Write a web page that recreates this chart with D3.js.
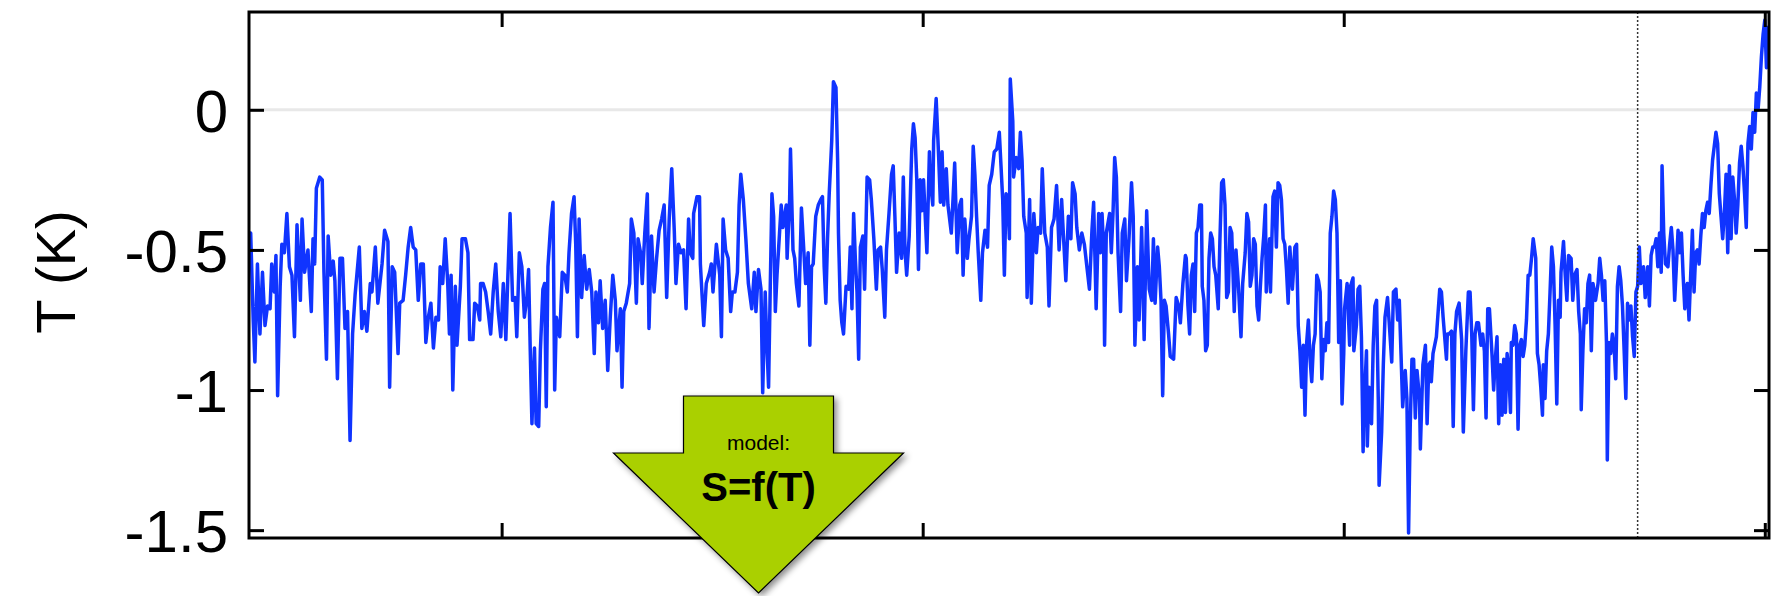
<!DOCTYPE html>
<html>
<head>
<meta charset="utf-8">
<script src="https://cdn.jsdelivr.net/npm/d3@7"></script>
<style>
    body { margin: 0; background: #fff; }
    svg { display: block; font-family: Arial, "Liberation Sans", sans-serif; }
</style>
</head>
<body>
<div id="wrapper"></div>
<script>
// values, one line of years per line of temps
const years = [
    200, 202, 205, 207, 210, 213, 216, 219, 222, 225,
    227, 230, 232, 234, 237, 239, 242, 245, 248, 251,
    254, 257, 261, 263, 266, 270, 274, 276, 278, 280,
    284, 287, 289, 292, 294, 297, 300, 302, 305, 308,
    311, 314, 317, 320, 323, 326, 331, 334, 337, 340,
    344, 346, 350, 353, 358, 361, 365, 367, 370, 373,
    377, 379, 383, 386, 389, 392, 395, 398, 401, 404,
    407, 410, 413, 416, 419, 422, 425, 427, 430, 433,
    436, 438, 440, 442, 445, 447, 451, 453, 457, 460,
    462, 466, 468, 471, 474, 475, 478, 481, 484, 487,
    490, 493, 496, 499, 502, 505, 507, 510, 513, 516,
    518, 521, 524, 527, 530, 532, 534, 536, 539, 541,
    544, 546, 549, 551, 553, 555, 558, 561, 563, 565,
    569, 572, 575, 578, 580, 583, 586, 588, 590, 592,
    595, 598, 601, 604, 607, 610, 612, 615, 617, 620,
    623, 626, 629, 632, 635, 637, 641, 643, 645, 648,
    652, 654, 657, 660, 662, 665, 667, 670, 673, 675,
    678, 681, 684, 687, 690, 693, 696, 699, 702, 705,
    707, 710, 713, 716, 719, 722, 724, 727, 728, 732,
    735, 736, 740, 743, 747, 749, 751, 755, 759, 761,
    763, 766, 769, 772, 774, 777, 780, 782, 784, 787,
    790, 793, 797, 800, 802, 805, 808, 810, 813, 815,
    817, 819, 821, 823, 825, 827, 830, 832, 834, 838,
    839, 842, 843, 846, 848, 850, 853, 856, 859, 861,
    864, 866, 868, 870, 873, 876, 879, 881, 883, 885,
    887, 889, 892, 894, 897, 899, 900, 902, 904, 906,
    909, 912, 914, 916, 918, 920, 922, 924, 926, 929,
    931, 934, 937, 939, 942, 945, 947, 950, 952, 955,
    957, 960, 963, 965, 967, 969, 972, 975, 977, 979,
    981, 984, 987, 989, 991, 993, 995, 997, 999, 1001,
    1005, 1008, 1009, 1012, 1013, 1016, 1019, 1021, 1023, 1025,
    1028, 1030, 1034, 1036, 1038, 1041, 1044, 1046, 1048, 1050,
    1053, 1055, 1058, 1060, 1062, 1064, 1066, 1069, 1071, 1074,
    1077, 1079, 1082, 1085, 1088, 1091, 1093, 1095, 1097, 1099,
    1101, 1103, 1104, 1107, 1108, 1111, 1114, 1116, 1118, 1120,
    1123, 1124, 1127, 1129, 1132, 1135, 1137, 1140, 1142, 1145,
    1148, 1150, 1153, 1156, 1159, 1162, 1165, 1167, 1170, 1173,
    1176, 1178, 1181, 1183, 1186, 1189, 1192, 1195, 1198, 1201,
    1203, 1206, 1209, 1211, 1213, 1215, 1216, 1218, 1222, 1224,
    1226, 1228, 1230, 1232, 1235, 1237, 1240, 1242, 1245, 1248,
    1250, 1252, 1255, 1257, 1260, 1263, 1266, 1269, 1272, 1274,
    1276, 1279, 1281, 1283, 1285, 1287, 1289, 1292, 1294, 1298,
    1301, 1304, 1306, 1309, 1312, 1313, 1315, 1317, 1319, 1321,
    1323, 1325, 1327, 1329, 1331, 1332, 1334, 1336, 1338, 1340,
    1342, 1344, 1346, 1348, 1351, 1353, 1355, 1357, 1359, 1361,
    1363, 1365, 1367, 1370, 1372, 1375, 1378, 1380, 1383, 1385,
    1387, 1389, 1391, 1393, 1395, 1397, 1399, 1401, 1403, 1405,
    1407, 1408, 1412, 1413, 1416, 1418, 1420, 1422, 1424, 1426,
    1428, 1430, 1432, 1434, 1436, 1439, 1442, 1444, 1446, 1448,
    1450, 1452, 1454, 1456, 1458, 1460, 1462, 1464, 1466, 1468,
    1470, 1472, 1474, 1476, 1478, 1480, 1482, 1484, 1486, 1488,
    1490, 1492, 1494, 1496, 1498, 1500, 1501, 1504, 1507, 1508,
    1511, 1512, 1515, 1517, 1519, 1521, 1523, 1524, 1527, 1528,
    1530, 1533, 1535, 1537, 1539, 1541, 1542, 1545, 1547, 1549,
    1552, 1554, 1557, 1559, 1562, 1564, 1566, 1568, 1570, 1573,
    1575, 1577, 1579, 1581, 1583, 1585, 1587, 1590, 1591, 1594,
    1597, 1599, 1601, 1603, 1604, 1606, 1610, 1614, 1616, 1618,
    1622, 1623, 1625, 1628, 1630, 1632, 1634, 1637, 1640, 1642,
    1645, 1648, 1650, 1652, 1654, 1656, 1658, 1660, 1663, 1665,
    1667, 1669, 1671, 1673, 1676, 1678, 1680, 1682, 1684, 1686,
    1688, 1690, 1692, 1694, 1696, 1698, 1699, 1701, 1703, 1705,
    1707, 1709, 1711, 1713, 1715, 1717, 1719, 1721, 1723, 1725,
    1728, 1730, 1732, 1734, 1736, 1737, 1739, 1741, 1743, 1745,
    1747, 1749, 1751, 1753, 1755, 1757, 1758, 1761, 1763, 1765,
    1767, 1770, 1772, 1774, 1777, 1779, 1781, 1782, 1784, 1786,
    1788, 1790, 1792, 1794, 1796, 1799, 1802, 1804, 1806, 1808,
    1810, 1812, 1813, 1815, 1817, 1819, 1821, 1823, 1825, 1827,
    1829, 1831, 1833, 1835, 1837, 1839, 1841, 1843, 1845, 1847,
    1849, 1851, 1853, 1856, 1858, 1861, 1863, 1865, 1867, 1869,
    1871, 1873, 1875, 1877, 1878, 1880, 1882, 1885, 1887, 1889,
    1891, 1893, 1895, 1897, 1899, 1901, 1903, 1905, 1907, 1908,
    1910, 1912, 1914, 1916, 1918, 1920, 1922, 1924, 1926, 1928,
    1930, 1932, 1934, 1936, 1938, 1940, 1942, 1944, 1946, 1948,
    1950, 1952, 1954, 1956, 1958, 1960, 1962, 1964, 1966, 1968,
    1970, 1972, 1974, 1976, 1978, 1980, 1982, 1984, 1986, 1988,
    1990, 1992, 1994, 1996, 1998, 2000, 2002, 2003
]
const temps = [
    -0.44, -0.44, -0.75, -0.90, -0.55, -0.80, -0.58, -0.77, -0.70, -0.71,
    -0.55, -0.65, -0.52, -1.02, -0.63, -0.48, -0.51, -0.37, -0.56, -0.59,
    -0.81, -0.41, -0.68, -0.39, -0.58, -0.50, -0.72, -0.46, -0.55, -0.28,
    -0.24, -0.25, -0.58, -0.89, -0.45, -0.59, -0.54, -0.61, -0.96, -0.53,
    -0.53, -0.78, -0.72, -1.18, -0.80, -0.66, -0.49, -0.78, -0.72, -0.79,
    -0.62, -0.65, -0.49, -0.69, -0.55, -0.43, -0.47, -0.99, -0.56, -0.58,
    -0.87, -0.69, -0.68, -0.59, -0.49, -0.42, -0.49, -0.50, -0.68, -0.55,
    -0.55, -0.83, -0.74, -0.69, -0.85, -0.74, -0.75, -0.56, -0.62, -0.46,
    -0.62, -0.80, -0.59, -1.00, -0.63, -0.84, -0.63, -0.46, -0.46, -0.51,
    -0.82, -0.82, -0.69, -0.70, -0.75, -0.62, -0.62, -0.65, -0.72, -0.80,
    -0.65, -0.55, -0.72, -0.81, -0.62, -0.82, -0.63, -0.37, -0.68, -0.67,
    -0.81, -0.51, -0.56, -0.74, -0.67, -0.57, -0.86, -1.12, -0.85, -1.12,
    -1.13, -0.86, -0.64, -0.62, -1.06, -0.56, -0.42, -0.33, -1.00, -0.74,
    -0.81, -0.58, -0.59, -0.65, -0.51, -0.37, -0.31, -0.48, -0.81, -0.39,
    -0.67, -0.52, -0.64, -0.57, -0.65, -0.87, -0.65, -0.76, -0.61, -0.78,
    -0.68, -0.93, -0.74, -0.59, -0.68, -0.86, -0.71, -0.99, -0.72, -0.69,
    -0.62, -0.39, -0.44, -0.69, -0.46, -0.51, -0.62, -0.44, -0.30, -0.78,
    -0.45, -0.65, -0.53, -0.43, -0.39, -0.34, -0.67, -0.39, -0.21, -0.43,
    -0.62, -0.48, -0.51, -0.50, -0.71, -0.39, -0.51, -0.53, -0.37, -0.31,
    -0.31, -0.55, -0.77, -0.62, -0.58, -0.55, -0.65, -0.48, -0.59, -0.81,
    -0.39, -0.50, -0.53, -0.72, -0.65, -0.65, -0.58, -0.34, -0.23, -0.32,
    -0.46, -0.62, -0.71, -0.58, -0.72, -0.57, -0.64, -1.01, -0.65, -0.84,
    -0.99, -0.63, -0.30, -0.38, -0.72, -0.59, -0.44, -0.34, -0.42, -0.34,
    -0.53, -0.32, -0.14, -0.50, -0.53, -0.62, -0.70, -0.35, -0.51, -0.62,
    -0.51, -0.84, -0.56, -0.55, -0.38, -0.34, -0.32, -0.31, -0.56, -0.69,
    -0.46, -0.30, -0.11, 0.10, 0.08, -0.18, -0.44, -0.68, -0.76, -0.80,
    -0.63, -0.64, -0.49, -0.71, -0.37, -0.53, -0.65, -0.89, -0.49, -0.45,
    -0.64, -0.24, -0.25, -0.32, -0.46, -0.64, -0.50, -0.49, -0.57, -0.74,
    -0.50, -0.37, -0.23, -0.20, -0.38, -0.58, -0.44, -0.53, -0.24, -0.50,
    -0.59, -0.45, -0.14, -0.05, -0.10, -0.25, -0.57, -0.25, -0.36, -0.25,
    -0.51, -0.15, -0.25, -0.34, -0.11, 0.04, -0.17, -0.33, -0.15, -0.34,
    -0.21, -0.34, -0.44, -0.32, -0.19, -0.51, -0.34, -0.32, -0.59, -0.39,
    -0.53, -0.46, -0.38, -0.13, -0.23, -0.38, -0.51, -0.68, -0.51, -0.43,
    -0.49, -0.27, -0.23, -0.15, -0.14, -0.08, -0.20, -0.32, -0.59, -0.30,
    -0.31, -0.46, 0.11, -0.04, -0.24, -0.17, -0.21, -0.08, -0.18, -0.38,
    -0.44, -0.67, -0.32, -0.69, -0.37, -0.51, -0.42, -0.44, -0.21, -0.44,
    -0.49, -0.70, -0.42, -0.39, -0.27, -0.50, -0.32, -0.44, -0.61, -0.38,
    -0.46, -0.26, -0.30, -0.42, -0.50, -0.44, -0.48, -0.56, -0.64, -0.43,
    -0.33, -0.71, -0.37, -0.51, -0.37, -0.51, -0.84, -0.44, -0.37, -0.51,
    -0.37, -0.17, -0.24, -0.51, -0.72, -0.44, -0.39, -0.61, -0.46, -0.26,
    -0.38, -0.84, -0.56, -0.75, -0.42, -0.82, -0.36, -0.64, -0.68, -0.46,
    -0.69, -0.49, -0.56, -0.68, -1.02, -0.68, -0.70, -0.80, -0.88, -0.89,
    -0.67, -0.70, -0.76, -0.62, -0.52, -0.53, -0.70, -0.80, -0.59, -0.55,
    -0.72, -0.44, -0.42, -0.34, -0.34, -0.63, -0.68, -0.86, -0.84, -0.53,
    -0.44, -0.46, -0.56, -0.59, -0.71, -0.46, -0.26, -0.25, -0.34, -0.67,
    -0.65, -0.42, -0.44, -0.72, -0.50, -0.63, -0.81, -0.62, -0.51, -0.37,
    -0.40, -0.63, -0.59, -0.46, -0.48, -0.70, -0.75, -0.63, -0.53, -0.45,
    -0.34, -0.65, -0.46, -0.65, -0.31, -0.29, -0.49, -0.26, -0.27, -0.32,
    -0.46, -0.48, -0.57, -0.69, -0.49, -0.64, -0.49, -0.48, -0.77, -0.86,
    -0.99, -0.84, -1.09, -0.83, -0.75, -0.89, -0.97, -0.84, -0.80, -0.59,
    -0.61, -0.65, -0.96, -0.82, -0.86, -0.76, -0.83, -0.44, -0.38, -0.29,
    -0.32, -0.44, -0.83, -0.61, -1.05, -0.87, -0.71, -0.62, -0.84, -0.63,
    -0.60, -0.86, -0.77, -0.64, -0.63, -0.81, -1.22, -1.07, -0.86, -1.20,
    -0.99, -1.12, -0.84, -0.70, -0.68, -1.03, -1.34, -1.15, -0.91, -0.74,
    -0.67, -0.76, -0.90, -0.65, -0.64, -0.75, -0.68, -0.87, -1.06, -0.93,
    -1.03, -1.51, -1.12, -0.89, -0.89, -1.10, -0.93, -1.03, -1.21, -0.91,
    -0.84, -1.12, -0.91, -0.90, -0.97, -0.87, -0.81, -0.64, -0.65, -0.74,
    -0.89, -0.80, -0.80, -0.79, -1.13, -0.80, -0.72, -0.69, -0.82, -1.15,
    -0.86, -0.65, -0.65, -0.80, -1.07, -0.80, -0.76, -0.76, -0.84, -0.80,
    -0.86, -1.10, -0.71, -0.71, -0.87, -1.00, -0.89, -0.81, -1.12, -0.91,
    -1.09, -0.89, -1.08, -0.87, -0.93, -1.08, -0.83, -0.84, -0.77, -0.80,
    -1.14, -0.84, -0.82, -0.88, -0.84, -0.75, -0.59, -0.59, -0.53, -0.46,
    -0.53, -0.87, -0.91, -0.99, -1.09, -0.91, -1.03, -0.86, -0.80, -0.65,
    -0.49, -0.56, -0.77, -1.05, -0.68, -0.74, -0.58, -0.47, -0.59, -0.68,
    -0.52, -0.53, -0.68, -0.59, -0.57, -0.72, -0.80, -1.07, -0.86, -0.71,
    -0.76, -0.62, -0.59, -0.86, -0.62, -0.68, -0.62, -0.53, -0.59, -0.68,
    -0.61, -0.83, -1.25, -0.83, -0.87, -0.80, -0.84, -0.96, -0.63, -0.56,
    -0.61, -0.70, -0.86, -1.03, -0.69, -0.75, -0.70, -0.81, -0.88, -0.65,
    -0.63, -0.49, -0.62, -0.56, -0.67, -0.56, -0.70, -0.52, -0.49, -0.49,
    -0.46, -0.56, -0.44, -0.58, -0.20, -0.44, -0.55, -0.56, -0.48, -0.42,
    -0.50, -0.68, -0.56, -0.43, -0.51, -0.44, -0.59, -0.71, -0.63, -0.62,
    -0.75, -0.59, -0.43, -0.65, -0.51, -0.50, -0.55, -0.45, -0.37, -0.42,
    -0.36, -0.33, -0.37, -0.27, -0.18, -0.13, -0.08, -0.12, -0.30, -0.38,
    -0.46, -0.37, -0.23, -0.51, -0.20, -0.46, -0.24, -0.32, -0.44, -0.34,
    -0.19, -0.13, -0.20, -0.30, -0.42, -0.12, -0.06, -0.14, -0.01, -0.08,
    0.06, 0.00, 0.08, 0.19, 0.27, 0.32, 0.15, 0.30
]

const xTicks = [500, 1000, 1500, 2000]
const yTicks = [0, -0.5, -1, -1.5]
const yTickLabels = ['0', '-0.5', '-1', '-1.5']
const xDomain = [200, 2005]
const yDomain = [-1.528, 0.349]
const splitYear = 1849
const yLabel = 'T (K)'
const arrowLabel = 'model:'
const arrowFormula = 'S=f(T)'

function drawChart() {
    const xAcc = d => d.year
    const yAcc = d => d.temp
    const data = years.map((year, i) => ({ year: year, temp: temps[i] }))

    let dimensions = {
        width: 1776,
        height: 596,
        margin: {
            top: 12,
            right: 7,
            bottom: 58,
            left: 249
        }
    }
    dimensions.boundedWidth = dimensions.width - dimensions.margin.left - dimensions.margin.right
    dimensions.boundedHeight = dimensions.height - dimensions.margin.top - dimensions.margin.bottom

    const svg = d3.select('#wrapper').append('svg')
        .attr('width', dimensions.width)
        .attr('height', dimensions.height)

    const filter = svg.append('defs').append('filter')
        .attr('id', 'arrowShadow')
        .attr('x', '-20%').attr('y', '-20%')
        .attr('width', '150%').attr('height', '150%')
    filter.append('feDropShadow')
        .attr('dx', 3).attr('dy', 3)
        .attr('stdDeviation', 3)
        .attr('flood-color', '#000')
        .attr('flood-opacity', 0.45)

    const bounds = svg.append('g')
        .attr('transform', `translate(${dimensions.margin.left},${dimensions.margin.top})`)

    const xScale = d3.scaleLinear()
        .domain(xDomain)
        .range([0, dimensions.boundedWidth])

    const yScale = d3.scaleLinear()
        .domain(yDomain)
        .range([dimensions.boundedHeight, 0])

    // zero reference line
    bounds.append('line')
        .attr('x1', 0)
        .attr('x2', dimensions.boundedWidth)
        .attr('y1', yScale(0))
        .attr('y2', yScale(0))
        .attr('stroke', '#e8e8e8')
        .attr('stroke-width', 3)

    const lineGen = d3.line()
        .x(d => xScale(xAcc(d)))
        .y(d => yScale(yAcc(d)))

    bounds.append('path')
        .datum(data)
        .attr('d', lineGen)
        .attr('fill', 'none')
        .attr('stroke', '#1034ff')
        .attr('stroke-width', 3.5)
        .attr('stroke-linejoin', 'round')

    // start of instrumental record
    bounds.append('line')
        .attr('x1', xScale(splitYear))
        .attr('x2', xScale(splitYear))
        .attr('y1', 0)
        .attr('y2', dimensions.boundedHeight)
        .attr('stroke', '#333')
        .attr('stroke-width', 1.5)
        .attr('stroke-dasharray', '2,2')

    const tickLen = 15
    const styleAxis = g => {
        g.select('.domain').remove()
        g.selectAll('.tick line').attr('stroke', '#000').attr('stroke-width', 3)
    }

    bounds.append('g')
        .call(d3.axisLeft(yScale)
            .tickValues(yTicks)
            .tickFormat((d, i) => yTickLabels[i])
            .tickSizeInner(-tickLen)
            .tickSizeOuter(0)
            .tickPadding(21))
        .call(styleAxis)
        .call(g => g.selectAll('.tick text')
            .attr('font-size', 60)
            .attr('font-family', 'Arial, "Liberation Sans", sans-serif')
            .attr('fill', '#000')
            .attr('dy', '0.36em'))

    bounds.append('g')
        .attr('transform', `translate(${dimensions.boundedWidth},0)`)
        .call(d3.axisRight(yScale).tickValues(yTicks).tickFormat('').tickSizeInner(-tickLen).tickSizeOuter(0))
        .call(styleAxis)

    bounds.append('g')
        .call(d3.axisTop(xScale).tickValues(xTicks).tickFormat('').tickSizeInner(-tickLen).tickSizeOuter(0))
        .call(styleAxis)

    bounds.append('g')
        .attr('transform', `translate(0,${dimensions.boundedHeight})`)
        .call(d3.axisBottom(xScale).tickValues(xTicks).tickFormat('').tickSizeInner(-tickLen).tickSizeOuter(0))
        .call(styleAxis)

    bounds.append('rect')
        .attr('width', dimensions.boundedWidth)
        .attr('height', dimensions.boundedHeight)
        .attr('fill', 'none')
        .attr('stroke', '#000')
        .attr('stroke-width', 3)

    svg.append('text')
        .attr('transform', 'translate(55,272) rotate(-90)')
        .attr('text-anchor', 'middle')
        .attr('dominant-baseline', 'central')
        .attr('font-size', 56)
        .attr('fill', '#000')
        .text(yLabel)

    // model arrow
    const ax = 758.5
    const stemTop = 396, shoulder = 453, tip = 593
    const stemHalf = 75, wingHalf = 145
    const arrowPts = [
        [ax - stemHalf, stemTop], [ax + stemHalf, stemTop], [ax + stemHalf, shoulder],
        [ax + wingHalf, shoulder], [ax, tip], [ax - wingHalf, shoulder], [ax - stemHalf, shoulder]
    ]
    const arrow = svg.append('g')
    arrow.append('path')
        .attr('d', d3.line()(arrowPts) + 'Z')
        .attr('fill', '#aad000')
        .attr('stroke', '#000')
        .attr('stroke-width', 1.2)
        .attr('filter', 'url(#arrowShadow)')
    arrow.append('text')
        .attr('x', ax)
        .attr('y', 450)
        .attr('text-anchor', 'middle')
        .attr('font-size', 21)
        .attr('fill', '#000')
        .text(arrowLabel)
    arrow.append('text')
        .attr('x', ax)
        .attr('y', 501)
        .attr('text-anchor', 'middle')
        .attr('font-size', 40)
        .attr('font-weight', 'bold')
        .attr('fill', '#000')
        .text(arrowFormula)
}

drawChart()
</script>
</body>
</html>
